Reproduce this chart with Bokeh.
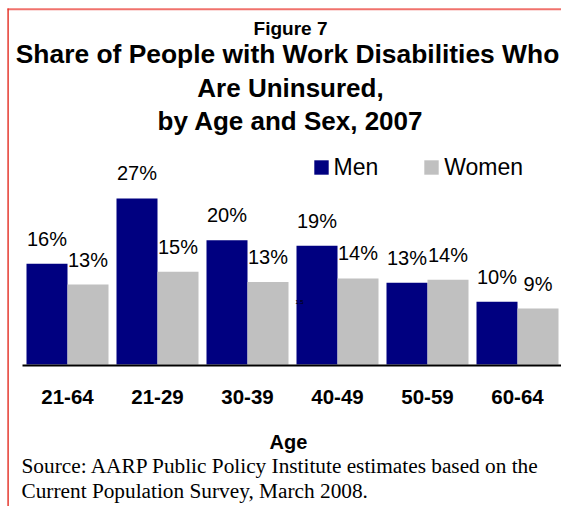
import numpy as np
from bokeh.plotting import figure
from bokeh.models import Range1d, Label, Legend, LegendItem, ColumnDataSource
from bokeh.core.properties import value
from bokeh.transform import dodge
from bokeh.embed import file_html
from bokeh.resources import INLINE

# ---- data ----
categories = ["21-64", "21-29", "30-39", "40-49", "50-59", "60-64"]
men = [16.4, 27.0, 20.2, 19.3, 13.3, 10.2]
women = [13.0, 15.1, 13.4, 14.0, 13.8, 9.1]
series_names = ["Men", "Women"]
title_lines = ["Figure 7",
               "Share of People with Work Disabilities Who",
               "Are Uninsured,",
               "by Age and Sex, 2007"]
x_title = "Age"
source_lines = ["Source: AARP Public Policy Institute estimates based on the",
                "Current Population Survey, March 2008."]

# ---- geometry (pixels) ----
W, H = 561, 506
PX_PER_CAT = 90.0
LEFT_PX = 22.0
BASE_PX = 364.0
PX_PER_PCT = 6.15

x_start = -0.5 - LEFT_PX / PX_PER_CAT
x_end = x_start + W / PX_PER_CAT
y_start = -(H - BASE_PX) / PX_PER_PCT
y_end = BASE_PX / PX_PER_PCT


def X(px):
    return x_start + px / PX_PER_CAT


def Y(py):
    return (BASE_PX - py) / PX_PER_PCT


NAVY = "#000080"
GRAY = "#C0C0C0"
FONT = "Liberation Sans"
SANS = value(FONT)
SHIFT = 0.4  # renderer places alphabetic baseline ~0.4em low

src = ColumnDataSource(dict(
    x=list(range(len(categories))),
    cat=categories,
    men=men,
    women=women,
    men_lbl=[f"{round(v)}%" for v in men],
    women_lbl=[f"{round(v)}%" for v in women],
))

p = figure(width=W, height=H, x_range=Range1d(x_start, x_end),
           y_range=Range1d(y_start, y_end), output_backend="svg",
           toolbar_location=None, x_axis_type=None, y_axis_type=None,
           min_border=0, outline_line_color=None, title=None)
p.background_fill_color = "white"
p.border_fill_color = "white"

bar_w = 41.0 / PX_PER_CAT
off = (4.0 + 20.5) / PX_PER_CAT - 0.5

men_r = p.vbar(x=dodge("x", off, range=p.x_range), top="men", bottom=0,
               width=bar_w, fill_color=NAVY, line_color=None, source=src)
women_r = p.vbar(x=dodge("x", -off, range=p.x_range), top="women", bottom=0,
                 width=bar_w, fill_color=GRAY, line_color=None, source=src)

# value labels
for col, lbl, d in (("men", "men_lbl", off), ("women", "women_lbl", -off)):
    p.text(x=dodge("x", d, range=p.x_range), y=col, text=lbl, source=src,
           y_offset=-17 - SHIFT * 20, text_align="center",
           text_baseline="alphabetic",
           text_font=SANS, text_font_size="20px", text_color="black")

# category labels
p.text(x="x", y=Y(405 - SHIFT * 20.5), text="cat", source=src,
       text_align="center", text_baseline="alphabetic", text_font=SANS,
       text_font_size="20.5px", text_font_style="bold", text_color="black")

# axis baseline
p.segment(x0=X(22), y0=Y(365), x1=X(561), y1=Y(365), line_color="black",
          line_width=2)

# borders
p.segment(x0=X(7), y0=Y(8.8), x1=X(561), y1=Y(8.8), line_color="#F0726C",
          line_width=2)
p.segment(x0=X(7.6), y0=Y(8), x1=X(7.6), y1=Y(506), line_color="#E5392F",
          line_width=1.5)

# titles
title_specs = [(title_lines[0], 35.5, 19.0, 290),
               (title_lines[1], 64.3, 26.4, 287),
               (title_lines[2], 97.8, 26.0, 290),
               (title_lines[3], 131.3, 26.0, 290)]
for txt, base, size, cx in title_specs:
    p.add_layout(Label(x=X(cx), y=Y(base - SHIFT * size), text=txt,
                       text_align="center", text_baseline="alphabetic",
                       text_font=FONT, text_font_size=f"{size}px",
                       text_font_style="bold", text_color="black"))

# x title
p.add_layout(Label(x=X(288), y=Y(449.5 - SHIFT * 20), text=x_title,
                   text_align="center", text_baseline="alphabetic",
                   text_font=FONT, text_font_size="20px",
                   text_font_style="bold", text_color="black"))

# source
for txt, base in zip(source_lines, (474.2, 499.3)):
    p.add_layout(Label(x=X(21), y=Y(base - SHIFT * 21.3), text=txt,
                       text_align="left", text_baseline="alphabetic",
                       text_font="Liberation Serif",
                       text_font_size="21.3px", text_color="black"))

# small artifact text
p.add_layout(Label(x=X(299), y=Y(301), text="1.5", text_align="center",
                   text_baseline="middle", text_font=FONT,
                   text_font_size="6px", text_color="black"))

# legend
legend = Legend(items=[LegendItem(label=series_names[0], renderers=[men_r]),
                       LegendItem(label=series_names[1], renderers=[women_r])],
                orientation="horizontal", location=(311.5, H - 180.5),
                glyph_width=18, glyph_height=18, label_standoff=4,
                spacing=44, padding=0, margin=0, border_line_color=None,
                background_fill_alpha=0, label_text_font=FONT,
                label_text_font_size="23px", label_text_color="black")
p.add_layout(legend)

open("out.html", "w").write(file_html(p, INLINE))
